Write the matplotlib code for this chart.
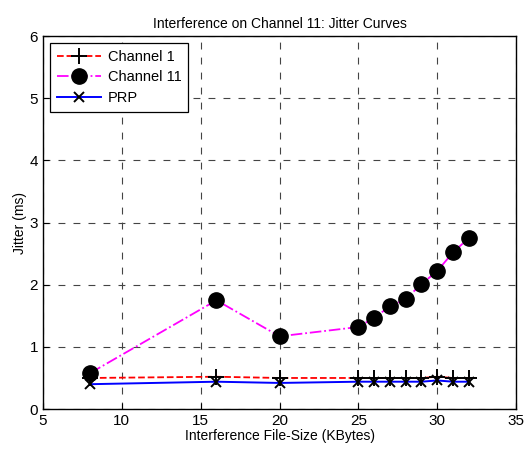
import matplotlib.pyplot as plt

plt.rcParams['font.family'] = ['Liberation Sans', 'DejaVu Sans']

# interference file sizes (KBytes)
size_ch1 = [8, 16, 20, 25, 26, 27, 28, 29, 30, 31, 32]
jitter_ch1 = [0.50, 0.52, 0.50, 0.50, 0.50, 0.50, 0.50, 0.50, 0.52, 0.50, 0.50]
size_ch11 = [8, 16, 20, 25, 26, 27, 28, 29, 30, 31, 32]
jitter_ch11 = [0.58, 1.75, 1.17, 1.32, 1.47, 1.65, 1.77, 2.01, 2.22, 2.52, 2.75]
size_prp = [8, 16, 20, 25, 26, 27, 28, 29, 30, 31, 32]
jitter_prp = [0.40, 0.44, 0.42, 0.44, 0.44, 0.44, 0.44, 0.44, 0.46, 0.44, 0.44]

fig = plt.figure(figsize=(5.28, 4.51), dpi=100)
ax = fig.add_axes([0.0814, 0.093, 0.896, 0.827])

ax.plot(size_ch1, jitter_ch1, color='red', linestyle='--', linewidth=1.3,
        marker='+', markersize=11, markeredgecolor='black', markeredgewidth=1.4,
        label='Channel 1')
ax.plot(size_ch11, jitter_ch11, color='magenta', linestyle='-.', linewidth=1.3,
        marker='o', markersize=11, markerfacecolor='black', markeredgecolor='black',
        label='Channel 11')
ax.plot(size_prp, jitter_prp, color='blue', linestyle='-', linewidth=1.4,
        marker='x', markersize=7.5, markeredgecolor='black', markeredgewidth=1.4,
        label='PRP')

ax.set_xlim(5, 35)
ax.set_ylim(0, 6)
ax.set_xticks(range(5, 36, 5))
ax.set_yticks(range(0, 7))
ax.tick_params(direction='in', labelsize=11, length=4)
ax.grid(True, color='#444444', linestyle=(0, (6.2, 7.3)), linewidth=0.8)
for s in ax.spines.values():
    s.set_linewidth(1.0)

ax.set_title('Interference on Channel 11: Jitter Curves', fontsize=10)
ax.set_xlabel('Interference File-Size (KBytes)', fontsize=10, labelpad=1)
ax.set_ylabel('Jitter (ms)', fontsize=10, labelpad=2)

leg = ax.legend(loc='upper left', fontsize=10.5, fancybox=False, framealpha=1,
                edgecolor='black', borderaxespad=0.5, handlelength=3.0,
                handletextpad=0.5, labelspacing=0.45, borderpad=0.45)
leg.get_frame().set_linewidth(0.9)

fig.savefig('out.png', dpi=100)
